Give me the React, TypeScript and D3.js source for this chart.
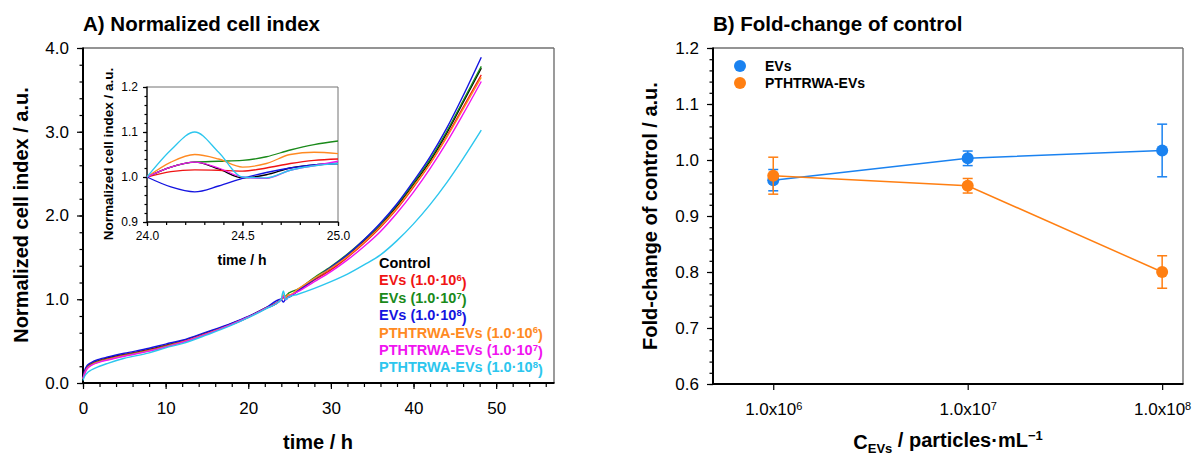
import React, { useEffect, useRef } from "react";
import * as d3 from "d3";

const FONT = "'Liberation Sans', Arial, Helvetica, sans-serif";

// ---- panel A : normalized cell index ----
const seriesLabels = ["Control", "EVs", "EVs", "EVs", "PTHTRWA-EVs", "PTHTRWA-EVs", "PTHTRWA-EVs"];
const seriesExp = ["", "6", "7", "8", "6", "7", "8"];
const seriesColors = ["#000000", "#f01414", "#1a8a1a", "#1414e0", "#ff8a22", "#f014f0", "#2cc6ee"];

// 0 - 22 h
const earlyTimes = [0, 0.2, 0.5, 1, 2, 3, 5, 8, 10, 12, 15, 18, 20, 22];
const earlyValues = [
  [0.05, 0.13, 0.19, 0.23, 0.27, 0.3, 0.34, 0.4, 0.45, 0.5, 0.6, 0.71, 0.79, 0.89],
  [0.05, 0.13, 0.19, 0.225, 0.265, 0.29, 0.335, 0.395, 0.445, 0.495, 0.595, 0.705, 0.79, 0.89],
  [0.05, 0.12, 0.18, 0.22, 0.26, 0.285, 0.33, 0.39, 0.44, 0.49, 0.59, 0.7, 0.785, 0.885],
  [0.06, 0.15, 0.21, 0.245, 0.285, 0.31, 0.355, 0.415, 0.465, 0.51, 0.61, 0.715, 0.795, 0.89],
  [0.05, 0.12, 0.18, 0.215, 0.255, 0.28, 0.325, 0.385, 0.435, 0.49, 0.59, 0.7, 0.785, 0.885],
  [0.05, 0.11, 0.17, 0.21, 0.25, 0.275, 0.32, 0.38, 0.43, 0.485, 0.585, 0.7, 0.785, 0.885],
  [0.03, 0.08, 0.12, 0.155, 0.2, 0.235, 0.295, 0.36, 0.42, 0.47, 0.575, 0.69, 0.78, 0.88],
];

// 24 - 25 h (inset window)
const insetTimes = [24, 24.125, 24.25, 24.375, 24.5, 24.625, 24.75, 24.875, 25];
const insetValues = [
  [1.0, 1.022, 1.033, 1.018, 0.998, 1.005, 1.02, 1.027, 1.03],
  [1.0, 1.012, 1.016, 1.015, 1.013, 1.02, 1.03, 1.037, 1.04],
  [1.0, 1.022, 1.033, 1.035, 1.037, 1.045, 1.06, 1.072, 1.08],
  [1.0, 0.978, 0.967, 0.98, 0.997, 1.01, 1.02, 1.027, 1.03],
  [1.0, 1.033, 1.05, 1.04, 1.022, 1.03, 1.05, 1.055, 1.052],
  [1.0, 1.022, 1.033, 1.02, 1.0, 0.997, 1.015, 1.025, 1.035],
  [1.0, 1.06, 1.1, 1.055, 1.0, 0.998, 1.015, 1.025, 1.03],
];

// 26 - 48 h
const lateTimes = [26, 28, 30, 32, 34, 36, 38, 40, 42, 44, 46, 48.2];
const lateValues = [
  [1.1, 1.24, 1.37, 1.52, 1.69, 1.88, 2.11, 2.37, 2.65, 2.98, 3.35, 3.76],
  [1.1, 1.23, 1.35, 1.5, 1.67, 1.86, 2.08, 2.34, 2.62, 2.94, 3.29, 3.68],
  [1.12, 1.26, 1.39, 1.54, 1.71, 1.9, 2.13, 2.39, 2.67, 3.0, 3.37, 3.78],
  [1.1, 1.24, 1.38, 1.53, 1.71, 1.91, 2.14, 2.41, 2.7, 3.04, 3.43, 3.89],
  [1.12, 1.25, 1.37, 1.51, 1.68, 1.87, 2.09, 2.35, 2.62, 2.93, 3.27, 3.65],
  [1.09, 1.21, 1.33, 1.47, 1.63, 1.81, 2.03, 2.28, 2.56, 2.87, 3.21, 3.6],
  [1.06, 1.13, 1.21, 1.3, 1.41, 1.53, 1.7, 1.9, 2.13, 2.39, 2.68, 3.02],
];

// ---- panel B : fold-change of control ----
const concLevels = [1e6, 1e7, 1e8];
const concExp = ["6", "7", "8"];
const evsMean = [0.964, 1.003, 1.017];
const evsErr = [0.019, 0.013, 0.047];
const pthMean = [0.972, 0.954, 0.8];
const pthErr = [0.033, 0.013, 0.029];
const foldSeries = [
  { name: "EVs", color: "#1a82f0", mean: evsMean, err: evsErr },
  { name: "PTHTRWA-EVs", color: "#ff7f12", mean: pthMean, err: pthErr },
];

type Sel = d3.Selection<SVGGElement, unknown, null, undefined>;

function frame(g: Sel, x0: number, x1: number, y0: number, y1: number, w: number) {
  // top + right in grey, left + bottom in black
  g.append("line").attr("x1", x0).attr("x2", x1).attr("y1", y0).attr("y2", y0).attr("stroke", "#707070").attr("stroke-width", w * 0.7);
  g.append("line").attr("x1", x1).attr("x2", x1).attr("y1", y0).attr("y2", y1).attr("stroke", "#707070").attr("stroke-width", w * 0.7);
  g.append("line").attr("x1", x0).attr("x2", x0).attr("y1", y0 - 0.5).attr("y2", y1 + 0.5).attr("stroke", "#000").attr("stroke-width", w);
  g.append("line").attr("x1", x0).attr("x2", x1 + 0.5).attr("y1", y1).attr("y2", y1).attr("stroke", "#000").attr("stroke-width", w);
}

function styleAxis(g: Sel, size: number) {
  g.attr("font-family", FONT).attr("font-size", size);
  g.select(".domain").remove();
  g.selectAll(".tick line").attr("stroke", "#000").attr("stroke-width", 1.2);
  g.selectAll(".tick text").attr("fill", "#000");
}

export default function App() {
  const ref = useRef<SVGSVGElement>(null);

  useEffect(() => {
    const svg = d3.select(ref.current);
    svg.selectAll("*").remove();
    const root = svg.append("g") as unknown as Sel;

    // ================= Panel A =================
    const mx = d3.scaleLinear().domain([0, 57]).range([83, 554]);
    const my = d3.scaleLinear().domain([0, 4]).range([383, 48]);

    root.append("text").attr("x", 83).attr("y", 31).attr("font-family", FONT).attr("font-size", 20.5)
      .attr("font-weight", "bold").text("A) Normalized cell index");

    // minor ticks
    root.append("g").attr("transform", "translate(0,383)")
      .call(d3.axisBottom(mx).tickValues(d3.range(0, 57, 2)).tickSize(4).tickFormat(() => ""))
      .call((g) => styleAxis(g as Sel, 17));
    root.append("g").attr("transform", "translate(83,0)")
      .call(d3.axisLeft(my).tickValues(d3.range(0, 4.01, 0.2)).tickSize(3.5).tickFormat(() => ""))
      .call((g) => styleAxis(g as Sel, 17));
    // major ticks
    root.append("g").attr("transform", "translate(0,383)")
      .call(d3.axisBottom(mx).tickValues([0, 10, 20, 30, 40, 50]).tickSize(6).tickPadding(13).tickFormat(d3.format("d")))
      .call((g) => styleAxis(g as Sel, 17));
    root.append("g").attr("transform", "translate(83,0)")
      .call(d3.axisLeft(my).tickValues([0, 1, 2, 3, 4]).tickSize(6).tickPadding(8).tickFormat(d3.format(".1f")))
      .call((g) => styleAxis(g as Sel, 17));

    frame(root, 83, 554, 48, 383, 2);

    root.append("text").attr("transform", "translate(28,215) rotate(-90)").attr("text-anchor", "middle")
      .attr("font-family", FONT).attr("font-size", 20).attr("font-weight", "bold").text("Normalized cell index / a.u.");
    root.append("text").attr("x", 318).attr("y", 449).attr("text-anchor", "middle")
      .attr("font-family", FONT).attr("font-size", 20).attr("font-weight", "bold").text("time / h");

    const mainLine = d3.line<[number, number]>().x((d) => mx(d[0])).y((d) => my(d[1])).curve(d3.curveMonotoneX);
    seriesColors.forEach((color, i) => {
      const pts: [number, number][] = [
        ...earlyTimes.map((t, j) => [t, earlyValues[i][j]] as [number, number]),
        ...insetTimes.map((t, j) => [t, insetValues[i][j]] as [number, number]),
        ...lateTimes.map((t, j) => [t, lateValues[i][j]] as [number, number]),
      ];
      root.append("path").datum(pts).attr("d", mainLine).attr("fill", "none")
        .attr("stroke", color).attr("stroke-width", 1.4);
    });

    // legend
    seriesLabels.forEach((label, i) => {
      const t = root.append("text").attr("x", 379).attr("y", 263 + i * 17.4).attr("dy", "0.35em")
        .attr("font-family", FONT).attr("font-size", 14.5).attr("font-weight", "bold").attr("fill", seriesColors[i]);
      if (!seriesExp[i]) {
        t.text(label);
        return;
      }
      t.append("tspan").text(`${label} (1.0\u00b710`);
      t.append("tspan").attr("dy", "-0.45em").attr("font-size", 9.5).text(seriesExp[i]);
      t.append("tspan").attr("dy", "0.45em").text(")");
    });

    // ---- inset ----
    const ix = d3.scaleLinear().domain([24, 25]).range([147, 338]);
    const iy = d3.scaleLinear().domain([0.9, 1.2]).range([222, 87]);
    root.append("rect").attr("x", 147).attr("y", 87).attr("width", 191).attr("height", 135).attr("fill", "#fff");

    root.append("g").attr("transform", "translate(0,222)")
      .call(d3.axisBottom(ix).tickValues(d3.range(24, 25.01, 0.1)).tickSize(3).tickFormat(() => ""))
      .call((g) => styleAxis(g as Sel, 12));
    root.append("g").attr("transform", "translate(147,0)")
      .call(d3.axisLeft(iy).tickValues(d3.range(0.9, 1.201, 0.02)).tickSize(2.5).tickFormat(() => ""))
      .call((g) => styleAxis(g as Sel, 12));
    root.append("g").attr("transform", "translate(0,222)")
      .call(d3.axisBottom(ix).tickValues([24, 24.5, 25]).tickSize(4).tickPadding(5).tickFormat(d3.format(".1f")))
      .call((g) => styleAxis(g as Sel, 12));
    root.append("g").attr("transform", "translate(147,0)")
      .call(d3.axisLeft(iy).tickValues([0.9, 1.0, 1.1, 1.2]).tickSize(4).tickPadding(5).tickFormat(d3.format(".1f")))
      .call((g) => styleAxis(g as Sel, 12));

    frame(root, 147, 338, 87, 222, 1.4);

    const insetLine = d3.line<number>().x((_, j) => ix(insetTimes[j])).y((d) => iy(d)).curve(d3.curveMonotoneX);
    insetValues.forEach((vals, i) => {
      root.append("path").datum(vals).attr("d", insetLine).attr("fill", "none")
        .attr("stroke", seriesColors[i]).attr("stroke-width", 1.3);
    });

    root.append("text").attr("transform", "translate(113,154) rotate(-90)").attr("text-anchor", "middle")
      .attr("font-family", FONT).attr("font-size", 13.5).attr("font-weight", "bold").text("Normalized cell index / a.u.");
    root.append("text").attr("x", 242).attr("y", 265).attr("text-anchor", "middle")
      .attr("font-family", FONT).attr("font-size", 14).attr("font-weight", "bold").text("time / h");

    // ================= Panel B =================
    const rx = d3.scaleLog().domain([4.9e5, 1.28e8]).range([713, 1183]);
    const ry = d3.scaleLinear().domain([0.6, 1.2]).range([384, 48]);

    root.append("text").attr("x", 713).attr("y", 31).attr("font-family", FONT).attr("font-size", 20.5)
      .attr("font-weight", "bold").text("B) Fold-change of control");

    root.append("g").attr("transform", "translate(713,0)")
      .call(d3.axisLeft(ry).tickValues(d3.range(0.6, 1.201, 0.02)).tickSize(3.5).tickFormat(() => ""))
      .call((g) => styleAxis(g as Sel, 17));
    root.append("g").attr("transform", "translate(713,0)")
      .call(d3.axisLeft(ry).tickValues(d3.range(0.6, 1.201, 0.1)).tickSize(6).tickPadding(8).tickFormat(d3.format(".1f")))
      .call((g) => styleAxis(g as Sel, 17));
    const xAx = root.append("g").attr("transform", "translate(0,384)")
      .call(d3.axisBottom(rx).tickValues(concLevels).tickSize(6).tickPadding(13).tickFormat(() => ""));
    styleAxis(xAx as unknown as Sel, 17);
    xAx.selectAll<SVGTextElement, number>(".tick text").each(function (_, k) {
      const t = d3.select(this);
      t.append("tspan").text("1.0x10");
      t.append("tspan").attr("dy", "-0.45em").attr("font-size", 11).text(concExp[k]);
    });

    frame(root, 713, 1183, 48, 384, 2);

    root.append("text").attr("transform", "translate(657,216) rotate(-90)").attr("text-anchor", "middle")
      .attr("font-family", FONT).attr("font-size", 20).attr("font-weight", "bold").text("Fold-change of control / a.u.");
    const xt = root.append("text").attr("x", 948).attr("y", 449).attr("text-anchor", "middle")
      .attr("font-family", FONT).attr("font-size", 20).attr("font-weight", "bold");
    xt.append("tspan").text("C");
    xt.append("tspan").attr("dy", "0.3em").attr("font-size", 13).text("EVs");
    xt.append("tspan").attr("dy", "-0.3em").text(" / particles\u00b7mL");
    xt.append("tspan").attr("dy", "-0.5em").attr("font-size", 13).text("\u22121");

    const foldLine = d3.line<number>().x((_, j) => rx(concLevels[j])).y((d) => ry(d));
    foldSeries.forEach((s) => {
      const g = root.append("g");
      g.append("path").datum(s.mean).attr("d", foldLine).attr("fill", "none")
        .attr("stroke", s.color).attr("stroke-width", 1.5);
      s.mean.forEach((m, j) => {
        const cx = rx(concLevels[j]);
        const top = ry(m + s.err[j]);
        const bot = ry(m - s.err[j]);
        g.append("line").attr("x1", cx).attr("x2", cx).attr("y1", top).attr("y2", bot).attr("stroke", s.color).attr("stroke-width", 1.5);
        g.append("line").attr("x1", cx - 5).attr("x2", cx + 5).attr("y1", top).attr("y2", top).attr("stroke", s.color).attr("stroke-width", 1.5);
        g.append("line").attr("x1", cx - 5).attr("x2", cx + 5).attr("y1", bot).attr("y2", bot).attr("stroke", s.color).attr("stroke-width", 1.5);
        g.append("circle").attr("cx", cx).attr("cy", ry(m)).attr("r", 6).attr("fill", s.color);
      });
    });

    // legend
    foldSeries.forEach((s, i) => {
      root.append("circle").attr("cx", 740).attr("cy", 66 + i * 17).attr("r", 6).attr("fill", s.color);
      root.append("text").attr("x", 765).attr("y", 66 + i * 17).attr("dy", "0.35em")
        .attr("font-family", FONT).attr("font-size", 14).attr("font-weight", "bold").text(s.name);
    });
  }, []);

  return (
    <svg
      ref={ref}
      width={1195}
      height={458}
      style={{ position: "absolute", left: 0, top: 0, background: "#fff" }}
    />
  );
}
